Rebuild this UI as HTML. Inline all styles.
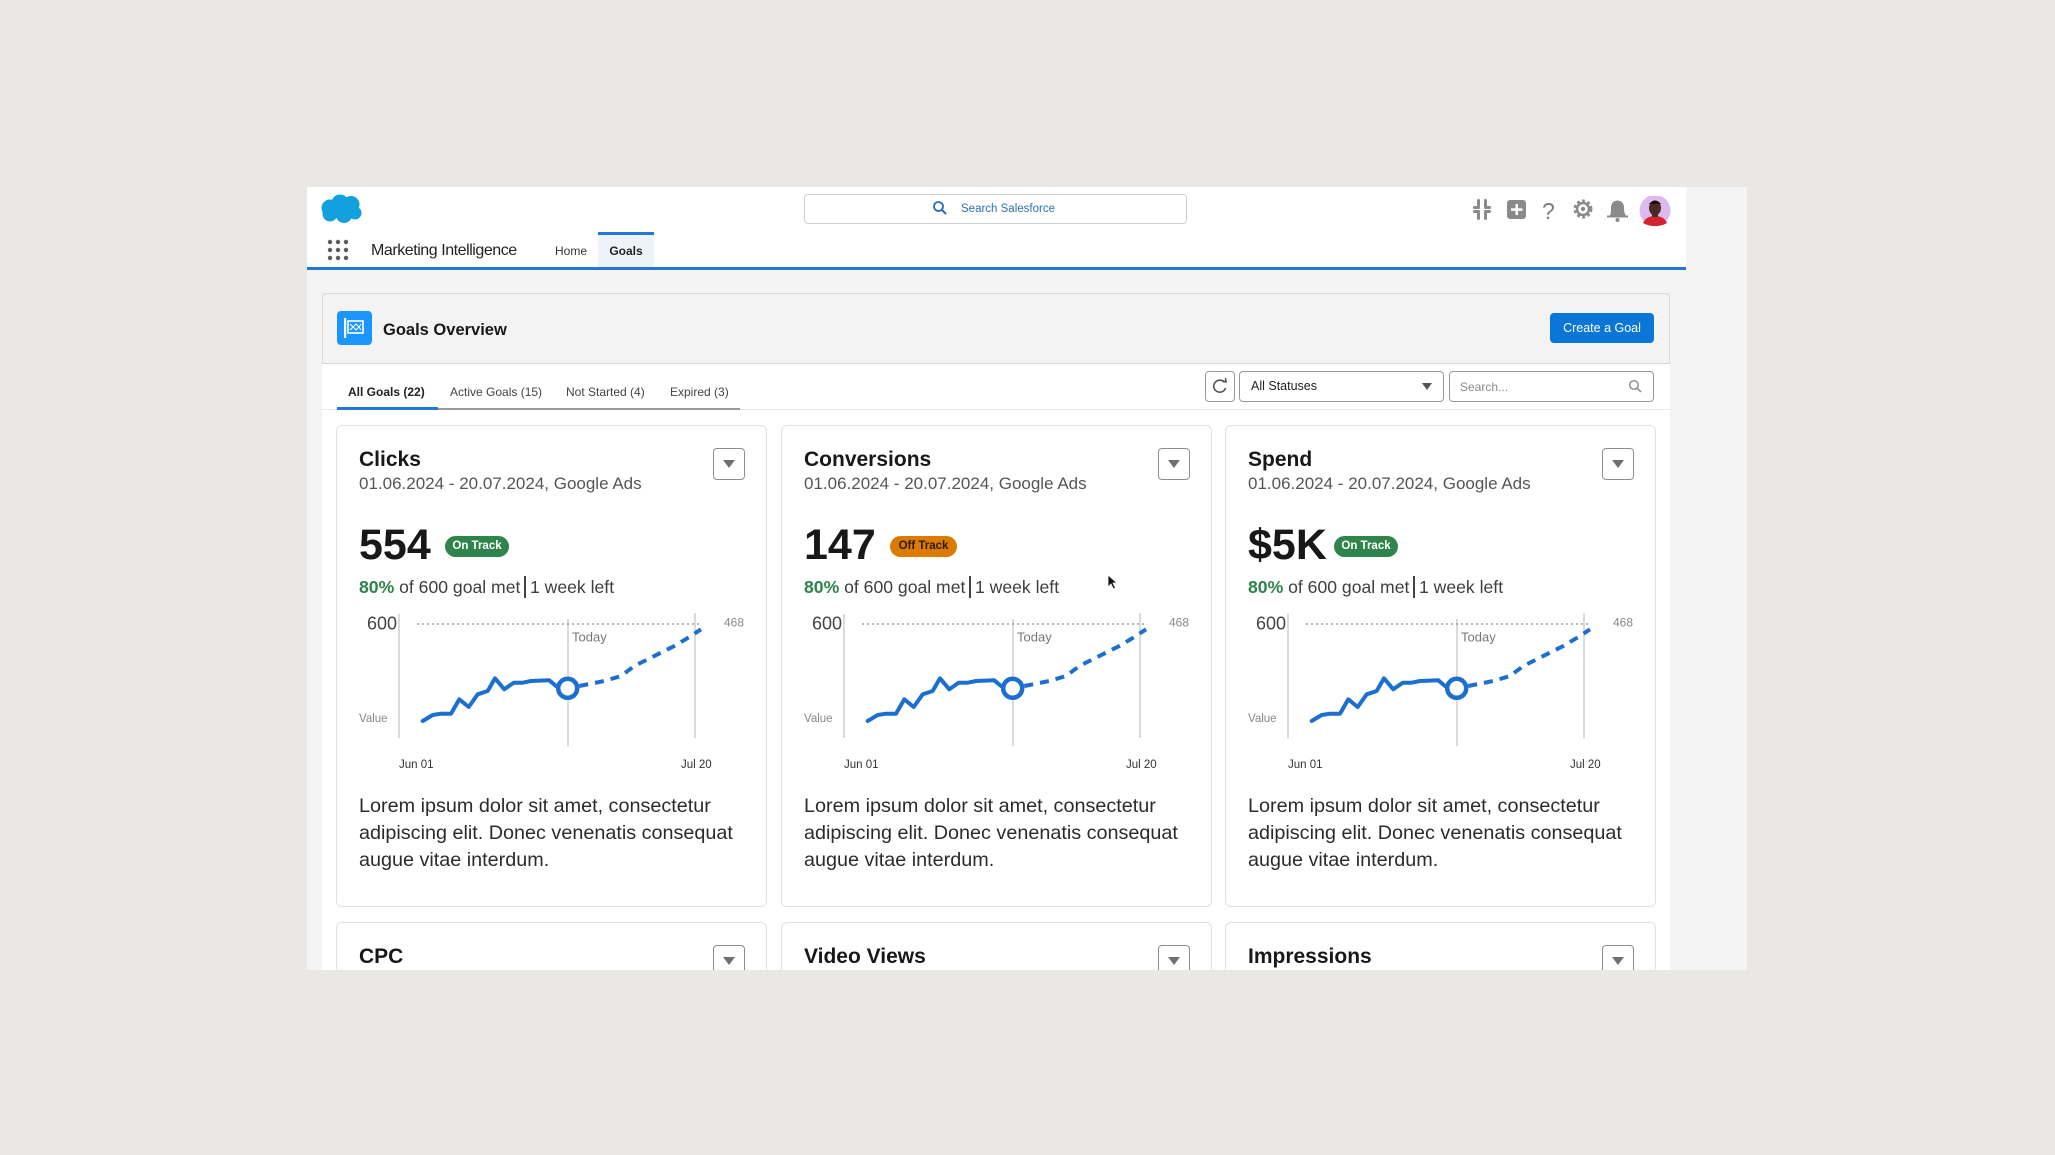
<!DOCTYPE html>
<html><head><meta charset="utf-8">
<style>
*{margin:0;padding:0;box-sizing:border-box}
body{width:2055px;height:1155px;background:#e9e8e5;position:relative;overflow:hidden;font-family:"Liberation Sans",Arial,sans-serif;color:#181818}
.a{position:absolute;white-space:nowrap}
.clip{position:absolute;left:0;top:0;width:2055px;height:970px;overflow:hidden}
.card{position:absolute;top:425px;width:431px;height:482px;background:#fff;border:1px solid #e1e1e1;border-radius:6px}
.card.b{top:922px;height:120px}
.ttl{position:absolute;left:22px;top:22px;font-size:21px;line-height:24px;font-weight:bold;color:#181818;white-space:nowrap}
.dt{position:absolute;left:22px;top:48px;font-size:17px;line-height:20px;color:#555;white-space:nowrap}
.dd{position:absolute;left:376px;top:22px;width:32px;height:32px;border:1.5px solid #8d8d8d;border-radius:4px;background:#fff}
.dd:after{content:"";position:absolute;left:9px;top:11px;border-left:6px solid transparent;border-right:6px solid transparent;border-top:8px solid #6f6f6f}
.num{position:absolute;left:22px;top:96px;font-size:43px;line-height:47px;font-weight:bold;color:#181818;white-space:nowrap}
.bdg{position:absolute;left:108px;top:110px;height:21px;border-radius:11px;font-size:11.5px;line-height:21px;font-weight:bold;text-align:center;white-space:nowrap}
.on{background:#2e844a;color:#fff;width:64px}
.off{background:#dd7a01;color:#2a1a00;width:67px}
.st{position:absolute;left:22px;top:151px;font-size:17.6px;line-height:20px;color:#3e3e3e;white-space:nowrap}
.st b{color:#2e844a}
.st i{display:inline-block;width:1.6px;height:22px;background:#444;vertical-align:middle;margin:-3px 4px 0 4px}
.ds{position:absolute;left:22px;top:367px;font-size:19.8px;line-height:27px;color:#2b2b2b;white-space:nowrap}
.ch{position:absolute;left:0;top:0}
</style></head><body>
<div class="clip">
<div class="a" style="left:307px;top:187px;width:1440px;height:783px;background:#f4f4f4"></div>
<div class="a" style="left:307px;top:187px;width:1379px;height:80px;background:#fff"></div>
<div class="a" style="left:307px;top:267px;width:1379px;height:3px;background:#2278d6"></div>

<svg class="a" style="left:316px;top:192px" width="52" height="34" viewBox="316 192 52 34">
<g fill="#12a0df">
<circle cx="330" cy="208" r="8.5"/><circle cx="340" cy="203" r="8.5"/><circle cx="351" cy="204.5" r="8.5"/>
<circle cx="355" cy="213" r="6.5"/><circle cx="344" cy="215" r="8"/><circle cx="330" cy="214" r="7.5"/>
</g></svg>

<div class="a" style="left:804px;top:194px;width:383px;height:30px;border:1px solid #cfcfcf;border-radius:4px;background:#fff"></div>
<svg class="a" style="left:932px;top:200px" width="16" height="16" viewBox="0 0 16 16"><circle cx="6.5" cy="6.5" r="4.5" fill="none" stroke="#2f6fb3" stroke-width="1.8"/><line x1="10" y1="10" x2="14" y2="14" stroke="#2f6fb3" stroke-width="2"/></svg>
<div class="a" style="left:961px;top:202px;font-size:11.5px;line-height:14px;color:#2f6fb3">Search Salesforce</div>

<svg class="a" style="left:1470px;top:196px" width="205" height="32" viewBox="1470 196 205 32">
<g fill="#8a8a8a">
<rect x="1477" y="199" width="3" height="8" rx="1.5"/><rect x="1477" y="212" width="3" height="8" rx="1.5"/>
<rect x="1484" y="199" width="3" height="8" rx="1.5"/><rect x="1484" y="212" width="3" height="8" rx="1.5"/>
<rect x="1473" y="206" width="7" height="3" rx="1.5"/><rect x="1484" y="206" width="7" height="3" rx="1.5"/>
<rect x="1473" y="210" width="7" height="3" rx="1.5"/><rect x="1484" y="210" width="7" height="3" rx="1.5"/>
<rect x="1507" y="200" width="19" height="19" rx="3"/>
</g>
<rect x="1515.5" y="204" width="2.5" height="11" fill="#fff"/><rect x="1511" y="208.3" width="11.5" height="2.5" fill="#fff"/>
<text x="1542" y="219" font-family="Liberation Sans" font-size="23" fill="#7d7d7d">?</text>
<circle cx="1583" cy="209" r="7.5" fill="none" stroke="#8a8a8a" stroke-width="4" stroke-dasharray="2.6 2.3"/>
<circle cx="1583" cy="209" r="6" fill="none" stroke="#8a8a8a" stroke-width="2.5"/>
<circle cx="1583" cy="209" r="2.2" fill="#8a8a8a"/>
<path d="M1610 216 Q1611 213 1611 208 Q1611 201 1617.5 200.5 Q1624 201 1624 208 Q1624 213 1626 216 Z" fill="#8a8a8a"/>
<rect x="1607" y="215.5" width="21" height="2" fill="#8a8a8a"/>
<circle cx="1617.5" cy="220" r="2" fill="#8a8a8a"/>
<circle cx="1655" cy="210.5" r="15.5" fill="#dcb9f0"/>
<path d="M1643 223 Q1646 216 1655 216 Q1664 216 1667 223 Q1662 226 1655 226 Q1648 226 1643 223Z" fill="#d3232f"/>
<ellipse cx="1655" cy="208" rx="6" ry="7.5" fill="#4a2b1f"/>
<rect x="1652" y="213" width="6" height="4" fill="#4a2b1f"/>
<path d="M1649 204 Q1655 197 1661 204" fill="#1d120d"/>
</svg>

<svg class="a" style="left:326px;top:238px" width="24" height="24" viewBox="326 238 24 24"><g fill="#5a5a5a">
<circle cx="330" cy="242" r="2.2"/><circle cx="338" cy="242" r="2.2"/><circle cx="346" cy="242" r="2.2"/>
<circle cx="330" cy="250" r="2.2"/><circle cx="338" cy="250" r="2.2"/><circle cx="346" cy="250" r="2.2"/>
<circle cx="330" cy="258" r="2.2"/><circle cx="338" cy="258" r="2.2"/><circle cx="346" cy="258" r="2.2"/></g></svg>
<div class="a" style="left:371px;top:241px;font-size:16px;line-height:20px;letter-spacing:-0.45px;color:#222">Marketing Intelligence</div>
<div class="a" style="left:555px;top:244px;font-size:12px;line-height:14px;color:#333">Home</div>
<div class="a" style="left:598px;top:232px;width:56px;height:35px;background:#eef3f9;border-top:3px solid #2278d6"></div>
<div class="a" style="left:598px;top:244px;width:56px;text-align:center;font-size:12px;line-height:14px;font-weight:bold;color:#222">Goals</div>

<div class="a" style="left:322px;top:293px;width:1348px;height:71px;background:#f3f3f3;border:1px solid #d9d9d9;border-radius:4px 4px 0 0"></div>
<div class="a" style="left:337px;top:311px;width:35px;height:34px;background:#1b96ff;border-radius:4px"></div>
<svg class="a" style="left:337px;top:311px" width="35" height="34" viewBox="0 0 35 34">
<rect x="7" y="7" width="2.2" height="20" fill="#fff"/>
<rect x="11" y="10" width="15" height="12" fill="none" stroke="#fff" stroke-width="1.6"/>
<path d="M13 13 L16 16 L19 13 L22 16 L24 13 M13 19 L16 16 L19 19 L22 16 L24 19" stroke="#fff" stroke-width="1.1" fill="none"/>
</svg>
<div class="a" style="left:383px;top:320px;font-size:16.5px;line-height:20px;font-weight:bold;color:#181818">Goals Overview</div>
<div class="a" style="left:1550px;top:313px;width:104px;height:30px;background:#0b76d8;border-radius:4px;color:#fff;font-size:12.5px;line-height:30px;text-align:center">Create a Goal</div>

<div class="a" style="left:322px;top:364px;width:1348px;height:606px;background:#fff"></div>

<div class="a" style="left:348px;top:385px;font-size:12px;line-height:14px;font-weight:bold;color:#222">All Goals (22)</div>
<div class="a" style="left:450px;top:385px;font-size:12px;line-height:14px;color:#444">Active Goals (15)</div>
<div class="a" style="left:566px;top:385px;font-size:12px;line-height:14px;color:#444">Not Started (4)</div>
<div class="a" style="left:670px;top:385px;font-size:12px;line-height:14px;color:#444">Expired (3)</div>
<div class="a" style="left:322px;top:409px;width:1348px;height:1px;background:#e8e8e8"></div>
<div class="a" style="left:337px;top:408px;width:403px;height:1.5px;background:#9a9a9a"></div>
<div class="a" style="left:337px;top:407px;width:101px;height:3px;background:#2278d6"></div>

<div class="a" style="left:1205px;top:371px;width:30px;height:31px;border:1.5px solid #9a9a9a;border-radius:4px;background:#fff"></div>
<svg class="a" style="left:1205px;top:371px" width="30" height="31" viewBox="0 0 30 31">
<path d="M19.5 11.5 A6 6 0 1 0 20.5 17" fill="none" stroke="#555" stroke-width="1.6"/>
<path d="M17 9.5 L21 11 L20.5 7" fill="none" stroke="#555" stroke-width="1.5"/></svg>
<div class="a" style="left:1239px;top:371px;width:205px;height:31px;border:1.5px solid #9a9a9a;border-radius:4px;background:#fff"></div>
<div class="a" style="left:1251px;top:379px;font-size:12.5px;line-height:15px;color:#222">All Statuses</div>
<div class="a" style="left:1422px;top:383px;border-left:5.5px solid transparent;border-right:5.5px solid transparent;border-top:7px solid #555;width:0;height:0"></div>
<div class="a" style="left:1449px;top:371px;width:205px;height:31px;border:1.5px solid #9a9a9a;border-radius:4px;background:#fff"></div>
<div class="a" style="left:1460px;top:380px;font-size:12px;line-height:14px;color:#8a8a8a">Search...</div>
<svg class="a" style="left:1628px;top:379px" width="15" height="15" viewBox="0 0 15 15"><circle cx="6" cy="6" r="4.3" fill="none" stroke="#888" stroke-width="1.4"/><line x1="9.2" y1="9.2" x2="13" y2="13" stroke="#888" stroke-width="1.5"/></svg>

<div class="card" style="left:336px">
<div class="ttl">Clicks</div>
<div class="dt">01.06.2024 - 20.07.2024, Google Ads</div>
<div class="dd"></div>
<div class="num">554</div>
<div class="bdg on">On Track</div>
<div class="st"><b>80%</b> of 600 goal met<i></i>1 week left</div>
<svg class="ch" width="431" height="360" viewBox="0 0 431 360">
<g stroke="#cfcfcf" stroke-width="1.5"><line x1="62" y1="188" x2="62" y2="312"/><line x1="231" y1="193" x2="231" y2="320"/><line x1="358" y1="187" x2="358" y2="312"/></g>
<line x1="80" y1="198" x2="362" y2="198" stroke="#8f8f8f" stroke-width="1.3" stroke-dasharray="2 3"/>
<g font-family="Liberation Sans">
<text x="30" y="203.5" font-size="18" fill="#444">600</text>
<text x="235" y="215.5" font-size="13" fill="#777">Today</text>
<text x="387" y="200.5" font-size="12" fill="#888">468</text>
<text x="22" y="296" font-size="11.5" fill="#888">Value</text>
<text x="62" y="342" font-size="11.5" fill="#333">Jun 01</text>
<text x="344" y="342" font-size="11.5" fill="#333">Jul 20</text>
</g>
<polyline points="85.7,295 95.7,289 104,287.7 114,287.7 122.3,273.3 131.7,281 140.7,268.3 150.7,265 158,252.3 167.3,263.3 176.7,256.7 185.7,256.7 194,255 212.3,254.3 219,260 230.7,262.3" fill="none" stroke="#1a6fcf" stroke-width="4" stroke-linejoin="round" stroke-linecap="round"/>
<path d="M242.3,260 L267.3,255 L284,250 L297.3,240 L320.7,228.3 L337.3,220 L354,210 L364,203.3" fill="none" stroke="#1a6fcf" stroke-width="4" stroke-dasharray="9 7"/>
<circle cx="230.7" cy="262.3" r="9.5" fill="#fff" stroke="#1a6fcf" stroke-width="4.5"/>
</svg>
<div class="ds">Lorem ipsum dolor sit amet, consectetur<br>adipiscing elit. Donec venenatis consequat<br>augue vitae interdum.</div>
</div>

<div class="card" style="left:781px">
<div class="ttl">Conversions</div>
<div class="dt">01.06.2024 - 20.07.2024, Google Ads</div>
<div class="dd"></div>
<div class="num">147</div>
<div class="bdg off">Off Track</div>
<div class="st"><b>80%</b> of 600 goal met<i></i>1 week left</div>
<svg class="ch" width="431" height="360" viewBox="0 0 431 360">
<g stroke="#cfcfcf" stroke-width="1.5"><line x1="62" y1="188" x2="62" y2="312"/><line x1="231" y1="193" x2="231" y2="320"/><line x1="358" y1="187" x2="358" y2="312"/></g>
<line x1="80" y1="198" x2="362" y2="198" stroke="#8f8f8f" stroke-width="1.3" stroke-dasharray="2 3"/>
<g font-family="Liberation Sans">
<text x="30" y="203.5" font-size="18" fill="#444">600</text>
<text x="235" y="215.5" font-size="13" fill="#777">Today</text>
<text x="387" y="200.5" font-size="12" fill="#888">468</text>
<text x="22" y="296" font-size="11.5" fill="#888">Value</text>
<text x="62" y="342" font-size="11.5" fill="#333">Jun 01</text>
<text x="344" y="342" font-size="11.5" fill="#333">Jul 20</text>
</g>
<polyline points="85.7,295 95.7,289 104,287.7 114,287.7 122.3,273.3 131.7,281 140.7,268.3 150.7,265 158,252.3 167.3,263.3 176.7,256.7 185.7,256.7 194,255 212.3,254.3 219,260 230.7,262.3" fill="none" stroke="#1a6fcf" stroke-width="4" stroke-linejoin="round" stroke-linecap="round"/>
<path d="M242.3,260 L267.3,255 L284,250 L297.3,240 L320.7,228.3 L337.3,220 L354,210 L364,203.3" fill="none" stroke="#1a6fcf" stroke-width="4" stroke-dasharray="9 7"/>
<circle cx="230.7" cy="262.3" r="9.5" fill="#fff" stroke="#1a6fcf" stroke-width="4.5"/>
</svg>
<div class="ds">Lorem ipsum dolor sit amet, consectetur<br>adipiscing elit. Donec venenatis consequat<br>augue vitae interdum.</div>
</div>

<div class="card" style="left:1225px">
<div class="ttl">Spend</div>
<div class="dt">01.06.2024 - 20.07.2024, Google Ads</div>
<div class="dd"></div>
<div class="num">$5K</div>
<div class="bdg on">On Track</div>
<div class="st"><b>80%</b> of 600 goal met<i></i>1 week left</div>
<svg class="ch" width="431" height="360" viewBox="0 0 431 360">
<g stroke="#cfcfcf" stroke-width="1.5"><line x1="62" y1="188" x2="62" y2="312"/><line x1="231" y1="193" x2="231" y2="320"/><line x1="358" y1="187" x2="358" y2="312"/></g>
<line x1="80" y1="198" x2="362" y2="198" stroke="#8f8f8f" stroke-width="1.3" stroke-dasharray="2 3"/>
<g font-family="Liberation Sans">
<text x="30" y="203.5" font-size="18" fill="#444">600</text>
<text x="235" y="215.5" font-size="13" fill="#777">Today</text>
<text x="387" y="200.5" font-size="12" fill="#888">468</text>
<text x="22" y="296" font-size="11.5" fill="#888">Value</text>
<text x="62" y="342" font-size="11.5" fill="#333">Jun 01</text>
<text x="344" y="342" font-size="11.5" fill="#333">Jul 20</text>
</g>
<polyline points="85.7,295 95.7,289 104,287.7 114,287.7 122.3,273.3 131.7,281 140.7,268.3 150.7,265 158,252.3 167.3,263.3 176.7,256.7 185.7,256.7 194,255 212.3,254.3 219,260 230.7,262.3" fill="none" stroke="#1a6fcf" stroke-width="4" stroke-linejoin="round" stroke-linecap="round"/>
<path d="M242.3,260 L267.3,255 L284,250 L297.3,240 L320.7,228.3 L337.3,220 L354,210 L364,203.3" fill="none" stroke="#1a6fcf" stroke-width="4" stroke-dasharray="9 7"/>
<circle cx="230.7" cy="262.3" r="9.5" fill="#fff" stroke="#1a6fcf" stroke-width="4.5"/>
</svg>
<div class="ds">Lorem ipsum dolor sit amet, consectetur<br>adipiscing elit. Donec venenatis consequat<br>augue vitae interdum.</div>
</div>

<div class="card b" style="left:336px"><div class="ttl">CPC</div><div class="dd"></div></div>
<div class="card b" style="left:781px"><div class="ttl">Video Views</div><div class="dd"></div></div>
<div class="card b" style="left:1225px"><div class="ttl">Impressions</div><div class="dd"></div></div>

<svg class="a" style="left:1107px;top:574px" width="12" height="16" viewBox="0 0 12 16"><path d="M1 1 L1 13 L4 10 L6.5 15 L8.5 14 L6 9 L10 9 Z" fill="#111" stroke="#fff" stroke-width="0.8"/></svg>
</div>
</body></html>
